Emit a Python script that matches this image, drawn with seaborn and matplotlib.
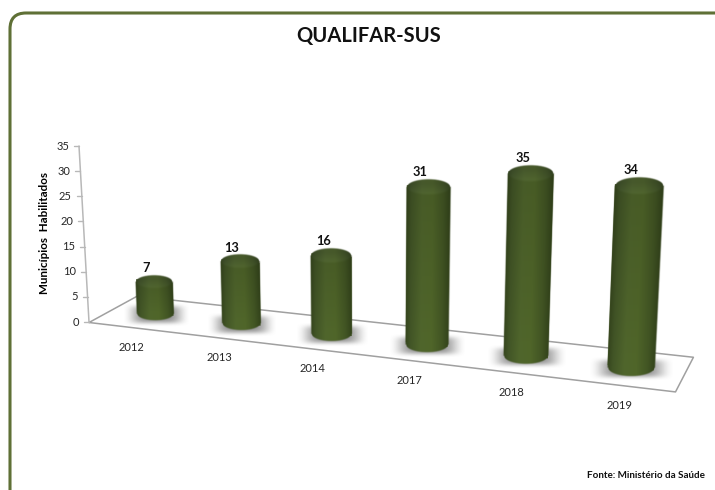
import numpy as np
import pandas as pd
import seaborn as sns
from matplotlib import pyplot as plt
from matplotlib.patches import FancyBboxPatch
from matplotlib.transforms import Transform

anos = ['2012', '2013', '2014', '2017', '2018', '2019']
municipios = [7, 13, 16, 31, 35, 34]
ticks_y = [0, 5, 10, 15, 20, 25, 30, 35]

VERDE = '#4a5f26'
# (posicao categoria, valor, profundidade) -> pixel, para montar a camera
CALIB = [((-0.5, 0, 0), (89, 322)), ((-0.5, 0, 1), (137, 296)),
         ((5.5, 0, 1), (693, 358)), ((5.5, 0, 0), (675, 393)),
         ((0, 0, .5), (154.5, 312)), ((0, 7, .5), (154.5, 283)),
         ((1, 0, .5), (241, 323)), ((1, 13, .5), (241, 263)),
         ((2, 0, .5), (331.5, 333)), ((2, 16, .5), (331.5, 257)),
         ((3, 0, .5), (428, 344)), ((3, 31, .5), (428, 186)),
         ((4, 0, .5), (526, 355)), ((4, 35, .5), (531, 172)),
         ((5, 0, .5), (631, 368)), ((5, 34, .5), (638, 185))]
EIXO_BASE, EIXO_TOPO = (89, 322), (79, 146)


def camera(pontos):
    A, b = [], []
    for (x, y, z), (u, v) in pontos:
        A.append([x, y, z, 1, 0, 0, 0, 0, -u * x, -u * y, -u * z])
        A.append([0, 0, 0, 0, x, y, z, 1, -v * x, -v * y, -v * z])
        b += [u, v]
    p = np.linalg.lstsq(np.array(A, float), np.array(b, float), rcond=None)[0]
    return np.append(p, 1).reshape(3, 4)


P = camera(CALIB)


def proj(x, y, z=0.5):
    h = P @ np.array([x, y, z, 1.0])
    return h[0] / h[2], h[1] / h[2]


class Perspectiva(Transform):
    input_dims = 2
    output_dims = 2

    def transform_non_affine(self, values):
        values = np.asarray(values, float)
        return np.array([proj(a, b) for a, b in values])


sns.set_theme(style='white')
plt.rcParams['font.family'] = ['Lato', 'DejaVu Sans']

df = pd.DataFrame({'ano': anos, 'municipios': municipios})
fig, ax = plt.subplots(figsize=(7.15, 4.9), dpi=100)
fig.subplots_adjust(0, 0, 1, 1)
sns.barplot(data=df, x='ano', y='municipios', color=VERDE, width=0.43, linewidth=0, ax=ax)
ax.set_xlim(0, 715)
ax.set_ylim(490, 0)
ax.axis('off')

# moldura
ax.add_patch(FancyBboxPatch((24, 27), 800, 600, boxstyle='round,pad=14,rounding_size=16',
                            fc='white', ec='#5f7036', lw=2.2, zorder=0, clip_on=True))

# chao e eixo
cantos = [proj(-0.5, 0, 0), proj(-0.5, 0, 1), proj(5.5, 0, 1), proj(5.5, 0, 0), proj(-0.5, 0, 0)]
ax.plot([c[0] for c in cantos], [c[1] for c in cantos], color='#a0a0a0', lw=1.1, zorder=1)
ax.plot([EIXO_BASE[0], EIXO_TOPO[0]], [EIXO_BASE[1], EIXO_TOPO[1]], color='#b8b8b8', lw=1.1, zorder=1)
for t in ticks_y:
    px = EIXO_BASE[0] + (EIXO_TOPO[0] - EIXO_BASE[0]) * t / 35
    py = EIXO_BASE[1] + (EIXO_TOPO[1] - EIXO_BASE[1]) * t / 35
    ax.plot([px - 5, px], [py, py], color='#b8b8b8', lw=1, zorder=1)
    ax.text(px - 10, py, str(t), ha='right', va='center', fontsize=8, color='#262626')

ax.text(44, 233, 'Municípios  Habilitados', rotation=90, ha='center', va='center',
        fontsize=8.4, fontweight='bold', color='black')
ax.text(369, 36, 'QUALIFAR-SUS', ha='center', va='center', fontsize=14.5, fontweight='bold', color='#111111')
ax.text(705, 475, 'Fonte: Ministério da Saúde', ha='right', va='center', fontsize=7.1, fontweight='bold', color='#111111')

paradas = [0, .1, .35, .6, .85, 1]
tons = np.array([[.20, .26, .11], [.24, .31, .14], [.29, .37, .16],
                 [.29, .37, .15], [.24, .31, .13], [.19, .25, .10]])


def gradiente(t):
    return np.dstack([np.interp(t, paradas, tons[:, i]) for i in range(3)])


for patch, ano in zip(ax.patches, anos):
    x0, w, v = patch.get_x(), patch.get_width(), patch.get_height()
    c = x0 + w / 2
    patch.set_transform(Perspectiva() + ax.transData)
    patch.set_clip_on(False)
    patch.set_zorder(3)

    bl, br = proj(x0, 0), proj(x0 + w, 0)
    tl, tr = proj(x0, v), proj(x0 + w, v)
    cbx, cby = proj(c, 0)
    ctx, cty = proj(c, v)
    hh = (tr[0] - tl[0]) * 0.175

    # sombra no chao
    hw = (br[0] - bl[0]) / 2
    gx, gy = np.meshgrid(np.linspace(-1, 1, 120), np.linspace(-1, 1, 50))
    alfa = 0.72 * np.exp(-(gx ** 2 * 1.5) ** 2 - (gy ** 2 * 1.7) ** 2) * (1 - gx ** 4) * (1 - gy ** 4)
    rgba = np.dstack([np.full_like(gx, .38), np.full_like(gx, .38), np.full_like(gx, .38), alfa])
    ax.imshow(rgba, extent=(cbx - hw * 1.8, cbx + hw * 1.85, cby + 13, cby - 12), aspect='auto', zorder=2)

    # corpo e tampa numa imagem so, com borda suave
    xi = np.arange(min(tl[0], bl[0]) - 3, max(tr[0], br[0]) + 3, .5)
    yi = np.arange(cty - hh - 3, cby + hh + 3, .5)
    X, Y = np.meshgrid(xi, yi)
    s = np.clip((cby - Y) / (cby - cty), 0, 1)
    xe = bl[0] + (tl[0] - bl[0]) * s
    xd = br[0] + (tr[0] - br[0]) * s
    t = np.clip((X - xe) / (xd - xe), 0, 1)
    u = np.sqrt(np.clip(1 - (2 * t - 1) ** 2, 0, 1))

    luz = 1.08 - 0.12 * s
    cor = np.clip(gradiente(t) * luz[..., None], 0, 1)
    # tampa: escura atras, clareando na borda da frente
    f = np.clip(((Y - cty) / hh + .4) / 1.4, 0, 1)[..., None]
    cor_tampa = gradiente(t) * (.88 + .14 * f) + np.array([.02, .02, .03])
    m = np.clip((cty + hh * u - Y) / 2.5 + .5, 0, 1)[..., None]
    cor = cor * (1 - m) + cor_tampa * m

    a_lado = np.clip(np.minimum(X - xe, xd - X) / 1.3 + 1, 0, 1)
    a_topo = np.clip((Y - (cty - hh * u)) / 1.3 + .5, 0, 1)
    a_base = np.clip(((cby + hh * u) - Y) / 1.3 + .5, 0, 1)
    alfa_c = a_lado * a_topo * a_base
    ax.imshow(np.dstack([np.clip(cor, 0, 1), alfa_c]), extent=(xi[0], xi[-1], yi[-1], yi[0]),
              aspect='auto', zorder=4, interpolation='bilinear')

    lx, ly = proj(c, v + 2.8)
    ax.text(lx - 8, ly, str(v if v % 1 else int(v)), ha='center', va='center',
            fontsize=9.2, fontweight='bold', color='#111111', zorder=7)
    fx, fy = proj(c, 0, 0)
    ax.text(fx, fy + 20, ano, ha='center', va='center', fontsize=8, color='#262626', zorder=7)

ax.set_xlim(0, 715)
ax.set_ylim(490, 0)
fig.savefig('out.png', dpi=100)
